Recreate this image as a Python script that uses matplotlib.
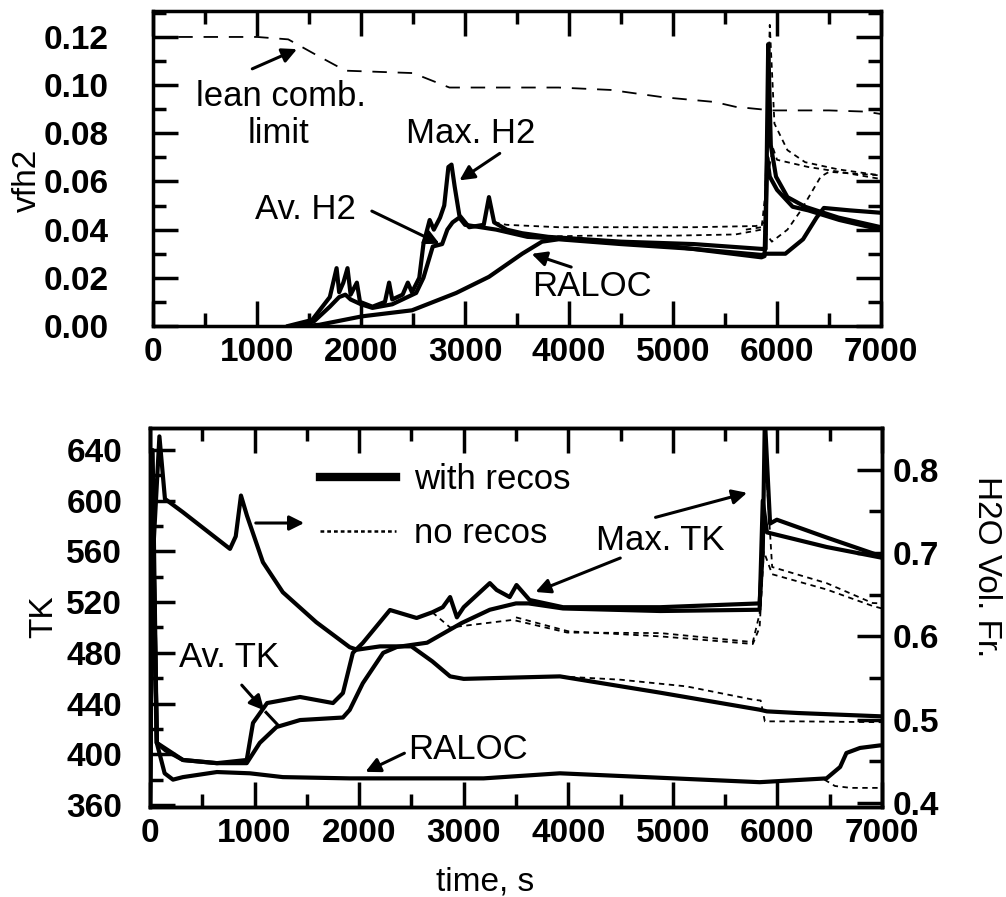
import matplotlib
matplotlib.use('Agg')
import matplotlib.pyplot as plt
from matplotlib.lines import Line2D

plt.rcParams['font.family'] = ['Liberation Sans', 'DejaVu Sans']

# ---------------- top panel: vfh2 vs time ----------------
lean_t = [0, 1000, 1300, 1550, 1850, 2500, 2850, 3900, 4400, 4900, 5400, 5600, 5950, 6500, 6850, 7000]
lean_v = [0.120, 0.120, 0.119, 0.113, 0.106, 0.105, 0.099, 0.099, 0.098, 0.095, 0.093, 0.091, 0.0895, 0.0895, 0.089, 0.088]

maxh_t = [1300, 1530, 1700, 1765, 1790, 1830, 1870, 1900, 1960, 1990, 2110, 2230, 2270, 2300, 2400,
          2450, 2490, 2560, 2600, 2660, 2700, 2760, 2800, 2840, 2870, 2900, 2945, 3040, 3180, 3230,
          3280, 3400, 3550, 3800, 4500, 5200, 5850, 5890, 5915, 5940, 5990, 6100, 6270, 6590, 7000]
maxh_v = [0.000, 0.0025, 0.012, 0.024, 0.014, 0.018, 0.024, 0.013, 0.018, 0.010, 0.008, 0.010, 0.018, 0.011, 0.013,
          0.018, 0.014, 0.020, 0.034, 0.044, 0.040, 0.045, 0.050, 0.066, 0.067, 0.058, 0.046, 0.041, 0.042, 0.0535,
          0.043, 0.040, 0.0385, 0.037, 0.035, 0.034, 0.032, 0.032, 0.117, 0.075, 0.062, 0.0535, 0.0495, 0.045, 0.041]

avh_t = [1400, 1550, 1700, 1790, 1850, 1900, 2000, 2110, 2300, 2530, 2600, 2690, 2780, 2830, 2880,
         2945, 3000, 3300, 3600, 4000, 5000, 5850, 5880, 5905, 5930, 6000, 6150, 6300, 6600, 7000]
avh_v = [0.000, 0.002, 0.008, 0.012, 0.013, 0.011, 0.009, 0.0075, 0.009, 0.0137, 0.020, 0.033, 0.034, 0.040, 0.043,
         0.045, 0.042, 0.040, 0.037, 0.036, 0.033, 0.0285, 0.029, 0.070, 0.062, 0.0565, 0.0495, 0.048, 0.044, 0.040]

ral_t = [1450, 1600, 2010, 2490, 2915, 3230, 3550, 3740, 3900, 4500, 5200, 5850, 5900, 6080, 6250, 6380, 6450, 6700, 7000]
ral_v = [0.000, 0.0005, 0.004, 0.0065, 0.0137, 0.0204, 0.030, 0.035, 0.036, 0.034, 0.032, 0.0295, 0.030, 0.030,
         0.036, 0.045, 0.049, 0.048, 0.047]

# no recombiners (dashed)
maxh_nr_t = [3280, 3400, 3900, 4500, 5200, 5800, 5880, 5930, 5975, 6100, 6270, 6590, 7000]
maxh_nr_v = [0.043, 0.042, 0.041, 0.041, 0.041, 0.0415, 0.043, 0.125, 0.084, 0.073, 0.068, 0.065, 0.0625]
avh_nr_t = [3600, 4200, 5000, 5600, 5850, 5900, 5960, 6000, 6300, 6600, 7000]
avh_nr_v = [0.037, 0.0375, 0.0375, 0.038, 0.040, 0.060, 0.074, 0.069, 0.066, 0.064, 0.061]
ral_nr_t = [5700, 5850, 5950, 6100, 6230, 6420, 6500, 7000]
ral_nr_v = [0.040, 0.041, 0.035, 0.040, 0.048, 0.062, 0.064, 0.0625]

# ---------------- bottom panel: TK and H2O vs time ----------------
maxtk_t = [0, 25, 65, 150, 315, 640, 925, 985, 1120, 1435, 1750, 1845, 1940, 2035, 2295, 2550, 2700,
           2800, 2870, 2935, 3000, 3250, 3315, 3440, 3505, 3630, 3950, 4880, 5830, 5860, 5880, 5930,
           5995, 6470, 7000]
maxtk_v = [360, 640, 409, 403, 395.5, 393, 395.5, 424.7, 440.4, 445.2, 440.4, 448.3, 480, 487.8, 513.8, 507.5, 512,
           516, 524, 508, 516, 535, 529.6, 524, 533.5, 521.7, 516, 516, 519, 560, 665, 582,
           585, 571, 556]

avtk_t = [0, 25, 65, 315, 640, 925, 1050, 1210, 1435, 1845, 1910, 2035, 2230, 2360, 2650, 2980, 3250,
          3500, 3620, 3950, 4880, 5830, 5860, 5900, 5950, 6470, 7000]
avtk_v = [360, 600, 409, 395.5, 393, 393, 409, 421.5, 427, 429, 435, 456, 480, 484.6, 488, 503.5, 514,
          519, 519, 515, 513, 514, 600, 575, 574, 563.5, 555]

raltk_t = [0, 25, 65, 140, 220, 315, 640, 955, 1270, 1910, 3190, 3920, 5830, 6470, 6600, 6660, 6790, 6980, 7000]
raltk_v = [360, 600, 409, 385, 380, 382, 386, 385, 382, 381, 381, 385, 378, 381, 390, 401, 405, 407, 407]

maxtk_nr_t = [2700, 2870, 3470, 3990, 4880, 5765, 5830, 5860, 5880, 5950, 6470, 6910, 7000]
maxtk_nr_v = [512, 500, 506, 496, 495.6, 488.5, 511, 600, 640, 547.7, 535, 519.3, 519]
avtk_nr_t = [3500, 4000, 4880, 5765, 5830, 5870, 5950, 6470, 6910, 7000]
avtk_nr_v = [508, 497, 493, 487, 500, 560, 542, 530, 517, 515]
raltk_nr_t = [6450, 6550, 6700, 7000]
raltk_nr_v = [380, 375, 373.5, 373.5]

h2o_t = [0, 30, 90, 143, 315, 765, 820, 870, 927, 1080, 1270, 1590, 1910, 1980, 2200, 2500, 2700, 2870,
         3000, 3920, 4875, 5830, 5900, 6200, 7000]
h2o_v = [0.42, 0.70, 0.84, 0.765, 0.749, 0.705, 0.72, 0.769, 0.745, 0.689, 0.653, 0.617, 0.587, 0.584, 0.588,
         0.588, 0.57, 0.552, 0.549, 0.552, 0.5325, 0.512, 0.510, 0.508, 0.504]
h2o_nr_t = [3920, 4500, 5130, 5770, 5840, 5880, 6200, 7000]
h2o_nr_v = [0.552, 0.548, 0.540, 0.524, 0.523, 0.498, 0.498, 0.497]

THICK = 3.0
THIN = 1.3
DASH = (3, 2.5)

fig = plt.figure(figsize=(10.06, 8.97), dpi=100)
ax1 = fig.add_axes([0.1521, 0.6366, 0.7237, 0.3512])
ax2 = fig.add_axes([0.1491, 0.1003, 0.7276, 0.4225])
ax3 = ax2.twinx()

# top panel
ax1.plot(lean_t, lean_v, color='black', lw=THIN, dashes=(8, 6))
ax1.plot(maxh_t, maxh_v, color='black', lw=THICK)
ax1.plot(avh_t, avh_v, color='black', lw=THICK)
ax1.plot(ral_t, ral_v, color='black', lw=THICK)
ax1.plot(maxh_nr_t, maxh_nr_v, color='black', lw=THIN, dashes=DASH)
ax1.plot(avh_nr_t, avh_nr_v, color='black', lw=THIN, dashes=DASH)
ax1.plot(ral_nr_t, ral_nr_v, color='black', lw=THIN, dashes=DASH)

ax1.set_xlim(0, 7000)
ax1.set_ylim(0, 0.1308)
ax1.set_xticks(range(0, 7001, 1000))
ax1.set_xticks(range(500, 7000, 1000), minor=True)
ax1.set_yticks([0.0, 0.02, 0.04, 0.06, 0.08, 0.10, 0.12])
ax1.set_yticks([0.01, 0.03, 0.05, 0.07, 0.09, 0.11, 0.13], minor=True)
ax1.set_yticklabels(['0.00', '0.02', '0.04', '0.06', '0.08', '0.10', '0.12'])

arw = dict(arrowstyle='-|>', color='black', lw=2.2, mutation_scale=22)
tfs = 25
ax1.text(1227, 0.0951, 'lean comb.', fontsize=tfs, ha='center', va='center')
ax1.text(1208, 0.0801, 'limit', fontsize=tfs, ha='center', va='center')
ax1.annotate('', xy=(1409, 0.1154), xytext=(930, 0.1063), arrowprops=arw)
ax1.text(3058, 0.0801, 'Max. H2', fontsize=tfs, ha='center', va='center')
ax1.annotate('', xy=(2924, 0.0598), xytext=(3356, 0.0723), arrowprops=arw)
ax1.text(1467, 0.0482, 'Av. H2', fontsize=tfs, ha='center', va='center')
ax1.annotate('', xy=(2780, 0.0336), xytext=(2080, 0.0482), arrowprops=arw)
ax1.text(4219, 0.0162, 'RALOC', fontsize=tfs, ha='center', va='center')
ax1.annotate('', xy=(3615, 0.0303), xytext=(4046, 0.0241), arrowprops=arw)

# bottom panel
ax3.plot(h2o_t, h2o_v, color='black', lw=THICK)
ax3.plot(h2o_nr_t, h2o_nr_v, color='black', lw=THIN, dashes=DASH)
ax2.plot(maxtk_t, maxtk_v, color='black', lw=THICK)
ax2.plot(avtk_t, avtk_v, color='black', lw=THICK)
ax2.plot(raltk_t, raltk_v, color='black', lw=THICK)
ax2.plot(maxtk_nr_t, maxtk_nr_v, color='black', lw=THIN, dashes=DASH)
ax2.plot(avtk_nr_t, avtk_nr_v, color='black', lw=THIN, dashes=DASH)
ax2.plot(raltk_nr_t, raltk_nr_v, color='black', lw=THIN, dashes=DASH)

ax2.set_xlim(0, 7000)
ax2.set_ylim(358.4, 657.3)
ax3.set_ylim(0.3952, 0.850)
ax2.set_xticks(range(0, 7001, 1000))
ax2.set_xticks(range(500, 7000, 1000), minor=True)
ax2.set_yticks(range(360, 641, 40))
ax2.set_yticks(range(380, 660, 40), minor=True)
ax3.set_yticks([0.4, 0.5, 0.6, 0.7, 0.8])
ax3.set_yticks([0.45, 0.55, 0.65, 0.75], minor=True)
ax3.set_yticklabels(['0.4', '0.5', '0.6', '0.7', '0.8'])

handles = [Line2D([], [], color='black', lw=6),
           Line2D([], [], color='black', lw=1.8, linestyle=(0, (1.5, 1.2)))]
ax2.legend(handles, ['with recos', 'no recos'], loc='upper left', bbox_to_anchor=(0.232, 0.907),
           frameon=False, fontsize=tfs, handlelength=2.2, handletextpad=0.5, labelspacing=0.6,
           borderpad=0, borderaxespad=0)

ax2.text(4876, 569, 'Max. TK', fontsize=tfs, ha='center', va='center')
ax2.annotate('', xy=(5736, 606.8), xytext=(4809, 586.3), arrowprops=arw)
ax2.annotate('', xy=(3662, 527.2), xytext=(4522, 555.6), arrowprops=arw)
ax2.text(755, 476, 'Av. TK', fontsize=tfs, ha='center', va='center')
ax2.annotate('', xy=(1110, 433), xytext=(860, 456.2), arrowprops=arw)
ax2.plot([1110, 1224], [433, 423], color='black', lw=2.2)
ax2.text(3040, 403.4, 'RALOC', fontsize=tfs, ha='center', va='center')
ax2.annotate('', xy=(2036, 385.2), xytext=(2457, 401.8), arrowprops=arw)
ax2.annotate('', xy=(1501, 582.4), xytext=(985, 582.4), arrowprops=arw)

# axes styling
for ax in (ax1, ax2, ax3):
    for s in ax.spines.values():
        s.set_linewidth(2.5)
for ax in (ax1, ax2):
    ax.tick_params(which='both', direction='in', width=2.5, top=True, labelsize=24)
    ax.tick_params(which='major', length=18)
    ax.tick_params(which='minor', length=9.5)
    ax.tick_params(axis='x', pad=8)
    for lab in ax.get_xticklabels() + ax.get_yticklabels():
        lab.set_fontweight('bold')
ax1.tick_params(which='both', right=True)
ax1.tick_params(axis='y', pad=32)
ax2.tick_params(axis='y', pad=20)
ax3.tick_params(which='both', direction='in', width=2.5, labelsize=24, pad=8)
ax3.tick_params(which='major', length=18)
ax3.tick_params(which='minor', length=9.5)
for lab in ax3.get_yticklabels():
    lab.set_fontweight('bold')

fig.text(27 / 1006, 1 - 180 / 897, 'vfh2', rotation=90, fontsize=24, ha='center', va='center')
fig.text(44 / 1006, 1 - 617 / 897, 'TK', rotation=90, fontsize=24, ha='center', va='center')
fig.text(987 / 1006, 1 - 567 / 897, 'H2O Vol. Fr.', rotation=-90, fontsize=24, ha='center', va='center')
fig.text(485 / 1006, 1 - 882 / 897, 'time, s', fontsize=24, ha='center', va='center')

fig.savefig('out.png', dpi=100)
